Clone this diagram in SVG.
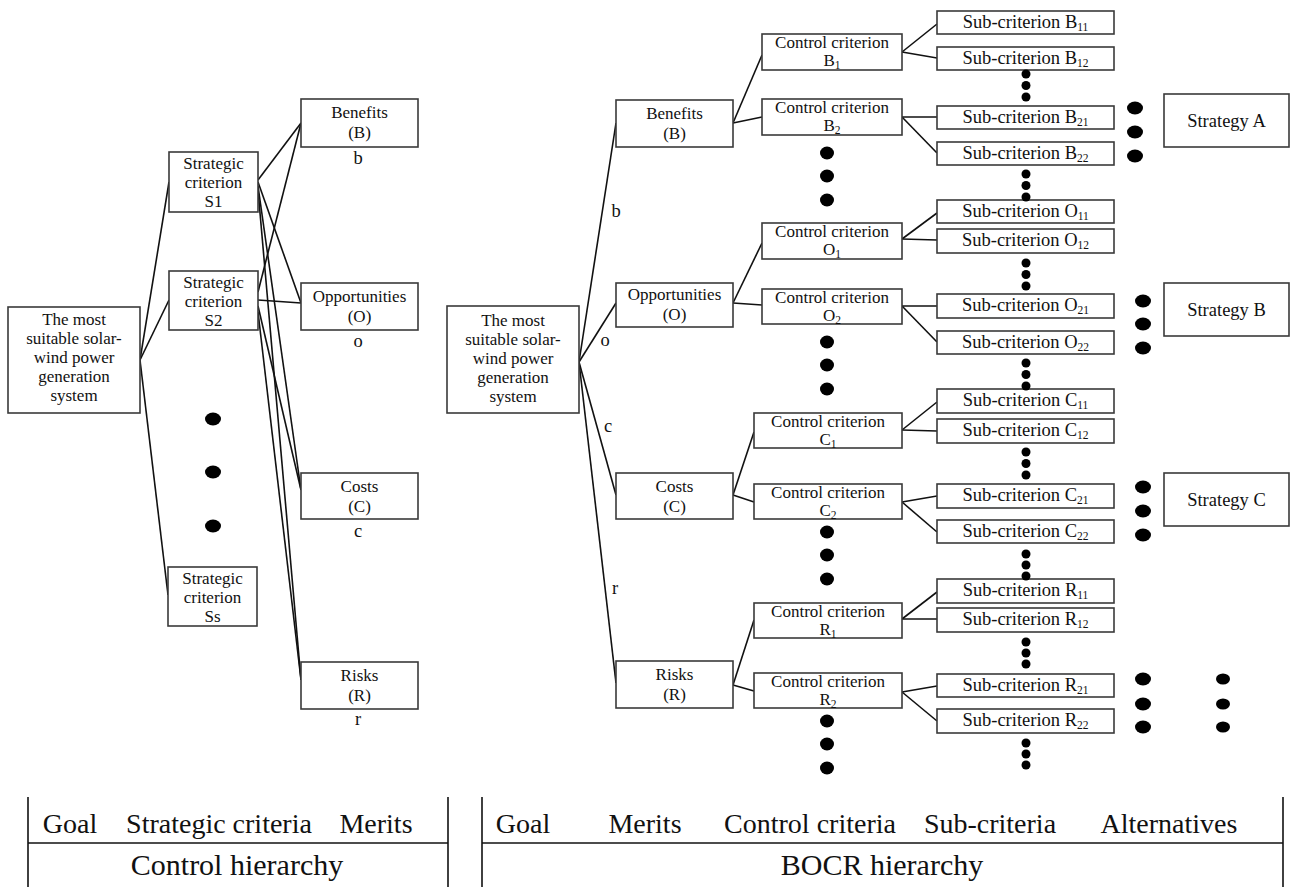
<svg xmlns="http://www.w3.org/2000/svg" width="1290" height="887" viewBox="0 0 1290 887">
<style>
.box{fill:#fff;stroke:#3a3a3a;stroke-width:1.6}
.t{font-family:"Liberation Serif","Times New Roman",serif;font-size:17px;fill:#111;text-anchor:middle}
.one{font-size:18.5px}
.s{font-size:11.5px}
.lb{font-family:"Liberation Serif","Times New Roman",serif;font-size:28px;fill:#111;text-anchor:middle}
.lh{font-size:30px}
.cn line{stroke:#111;stroke-width:1.6}
.tb line{stroke:#111;stroke-width:1.6}
.dot{fill:#000}
</style>
<rect width="1290" height="887" fill="#fff"/>

<g id="connectors" class="cn">
  <line x1="140" y1="360" x2="169" y2="182"/>
  <line x1="140" y1="360" x2="169" y2="300"/>
  <line x1="140" y1="360" x2="168" y2="595"/>
  <line x1="258" y1="180" x2="301" y2="123"/>
  <line x1="258" y1="182" x2="301" y2="303"/>
  <line x1="258" y1="186" x2="301" y2="490"/>
  <line x1="258" y1="190" x2="301" y2="680"/>
  <line x1="258" y1="292" x2="301" y2="123"/>
  <line x1="258" y1="300" x2="301" y2="303"/>
  <line x1="258" y1="306" x2="301" y2="490"/>
  <line x1="258" y1="312" x2="301" y2="680"/>
  <line x1="579" y1="362" x2="616" y2="123"/>
  <line x1="579" y1="362" x2="616" y2="303"/>
  <line x1="579" y1="362" x2="616" y2="495"/>
  <line x1="579" y1="362" x2="616" y2="683"/>
  <line x1="733" y1="123" x2="762" y2="55"/>
  <line x1="733" y1="123" x2="762" y2="117"/>
  <line x1="733" y1="303" x2="762" y2="243"/>
  <line x1="733" y1="303" x2="762" y2="305"/>
  <line x1="733" y1="495" x2="754" y2="432"/>
  <line x1="733" y1="495" x2="754" y2="502"/>
  <line x1="733" y1="685" x2="754" y2="620"/>
  <line x1="733" y1="685" x2="754" y2="691"/>
  <line x1="902" y1="52" x2="937" y2="24"/>
  <line x1="902" y1="52" x2="937" y2="58"/>
  <line x1="902" y1="117" x2="937" y2="117"/>
  <line x1="902" y1="117" x2="937" y2="153"/>
  <line x1="902" y1="239" x2="937" y2="213"/>
  <line x1="902" y1="239" x2="937" y2="240"/>
  <line x1="902" y1="306" x2="937" y2="306"/>
  <line x1="902" y1="306" x2="937" y2="342"/>
  <line x1="902" y1="430" x2="937" y2="402"/>
  <line x1="902" y1="430" x2="937" y2="431"/>
  <line x1="902" y1="502" x2="937" y2="496"/>
  <line x1="902" y1="502" x2="937" y2="532"/>
  <line x1="902" y1="619" x2="937" y2="592"/>
  <line x1="902" y1="619" x2="937" y2="619"/>
  <line x1="902" y1="692" x2="937" y2="686"/>
  <line x1="902" y1="692" x2="937" y2="721"/>
</g>

<!-- Left: control hierarchy -->
<g id="goalL"><rect class="box" x="8" y="307" width="132" height="106"/>
<text class="t" x="74" y="325">The most</text><text class="t" x="74" y="344">suitable solar-</text><text class="t" x="74" y="363">wind power</text><text class="t" x="74" y="382">generation</text><text class="t" x="74" y="401">system</text></g>
<g id="s1"><rect class="box" x="169" y="152" width="89" height="60"/>
<text class="t" x="213.5" y="169">Strategic</text><text class="t" x="213.5" y="188">criterion</text><text class="t" x="213.5" y="207">S1</text></g>
<g id="s2"><rect class="box" x="169" y="271" width="89" height="59"/>
<text class="t" x="213.5" y="288">Strategic</text><text class="t" x="213.5" y="307">criterion</text><text class="t" x="213.5" y="326">S2</text></g>
<g id="ss"><rect class="box" x="168" y="567" width="89" height="59"/>
<text class="t" x="212.5" y="584">Strategic</text><text class="t" x="212.5" y="603">criterion</text><text class="t" x="212.5" y="622">Ss</text></g>
<g id="dotsL"><ellipse class="dot" cx="213" cy="419" rx="8" ry="6.5"/><ellipse class="dot" cx="213" cy="472" rx="8" ry="6.5"/><ellipse class="dot" cx="213" cy="526" rx="8" ry="6.5"/></g>
<g id="benL"><rect class="box" x="301" y="99" width="117" height="48"/>
<text class="t" x="359.5" y="118">Benefits</text><text class="t" x="359.5" y="138">(B)</text><text class="t one" x="358" y="164">b</text></g>
<g id="oppL"><rect class="box" x="301" y="283" width="117" height="47"/>
<text class="t" x="359.5" y="302">Opportunities</text><text class="t" x="359.5" y="322">(O)</text><text class="t one" x="358" y="347">o</text></g>
<g id="costL"><rect class="box" x="301" y="473" width="117" height="46"/>
<text class="t" x="359.5" y="492">Costs</text><text class="t" x="359.5" y="512">(C)</text><text class="t one" x="358" y="537">c</text></g>
<g id="riskL"><rect class="box" x="301" y="662" width="117" height="47"/>
<text class="t" x="359.5" y="681">Risks</text><text class="t" x="359.5" y="701">(R)</text><text class="t one" x="358" y="725">r</text></g>

<!-- Right: BOCR hierarchy -->
<g id="goalR"><rect class="box" x="447" y="306" width="132" height="107"/>
<text class="t" x="513" y="326">The most</text><text class="t" x="513" y="345">suitable solar-</text><text class="t" x="513" y="364">wind power</text><text class="t" x="513" y="383">generation</text><text class="t" x="513" y="402">system</text></g>
<g id="labelsR"><text class="t one" x="616" y="217">b</text><text class="t one" x="605" y="346">o</text><text class="t one" x="608" y="432">c</text><text class="t one" x="615" y="594">r</text></g>
<g id="benR"><rect class="box" x="616" y="100" width="117" height="47"/>
<text class="t" x="674.5" y="119">Benefits</text><text class="t" x="674.5" y="139">(B)</text></g>
<g id="oppR"><rect class="box" x="616" y="283" width="117" height="44"/>
<text class="t" x="674.5" y="300">Opportunities</text><text class="t" x="674.5" y="320">(O)</text></g>
<g id="costR"><rect class="box" x="616" y="473" width="117" height="46"/>
<text class="t" x="674.5" y="492">Costs</text><text class="t" x="674.5" y="512">(C)</text></g>
<g id="riskR"><rect class="box" x="616" y="661" width="117" height="47"/>
<text class="t" x="674.5" y="680">Risks</text><text class="t" x="674.5" y="700">(R)</text></g>

<g id="cB1"><rect class="box" x="762" y="34" width="140" height="36"/><text class="t" x="832" y="48">Control criterion</text><text class="t" x="832" y="66">B<tspan class="s" dy="3">1</tspan></text></g>
<g id="cB2"><rect class="box" x="762" y="99" width="140" height="36"/><text class="t" x="832" y="113">Control criterion</text><text class="t" x="832" y="131">B<tspan class="s" dy="3">2</tspan></text></g>
<g id="cO1"><rect class="box" x="762" y="223" width="140" height="36"/><text class="t" x="832" y="237">Control criterion</text><text class="t" x="832" y="255">O<tspan class="s" dy="3">1</tspan></text></g>
<g id="cO2"><rect class="box" x="762" y="289" width="140" height="35"/><text class="t" x="832" y="303">Control criterion</text><text class="t" x="832" y="321">O<tspan class="s" dy="3">2</tspan></text></g>
<g id="cC1"><rect class="box" x="754" y="413" width="148" height="35"/><text class="t" x="828" y="427">Control criterion</text><text class="t" x="828" y="445">C<tspan class="s" dy="3">1</tspan></text></g>
<g id="cC2"><rect class="box" x="754" y="484" width="148" height="35"/><text class="t" x="828" y="498">Control criterion</text><text class="t" x="828" y="516">C<tspan class="s" dy="3">2</tspan></text></g>
<g id="cR1"><rect class="box" x="754" y="603" width="148" height="35"/><text class="t" x="828" y="617">Control criterion</text><text class="t" x="828" y="635">R<tspan class="s" dy="3">1</tspan></text></g>
<g id="cR2"><rect class="box" x="754" y="673" width="148" height="35"/><text class="t" x="828" y="687">Control criterion</text><text class="t" x="828" y="705">R<tspan class="s" dy="3">2</tspan></text></g>

<g id="dotsCtrl">
<ellipse class="dot" cx="827" cy="153" rx="7" ry="6.5"/><ellipse class="dot" cx="827" cy="176" rx="7" ry="6.5"/><ellipse class="dot" cx="827" cy="200" rx="7" ry="6.5"/>
<ellipse class="dot" cx="827" cy="342" rx="7" ry="6.5"/><ellipse class="dot" cx="827" cy="365" rx="7" ry="6.5"/><ellipse class="dot" cx="827" cy="389" rx="7" ry="6.5"/>
<ellipse class="dot" cx="827" cy="532" rx="7" ry="6.5"/><ellipse class="dot" cx="827" cy="555" rx="7" ry="6.5"/><ellipse class="dot" cx="827" cy="579" rx="7" ry="6.5"/>
<ellipse class="dot" cx="827" cy="721" rx="7" ry="6.5"/><ellipse class="dot" cx="827" cy="744" rx="7" ry="6.5"/><ellipse class="dot" cx="827" cy="768" rx="7" ry="6.5"/>
</g>

<g id="sB11"><rect class="box" x="937" y="11" width="177" height="23"/><text class="t one" x="1025.5" y="28">Sub-criterion B<tspan class="s" dy="3">11</tspan></text></g>
<g id="sB12"><rect class="box" x="937" y="47" width="177" height="23"/><text class="t one" x="1025.5" y="64">Sub-criterion B<tspan class="s" dy="3">12</tspan></text></g>
<g id="sB21"><rect class="box" x="937" y="106" width="177" height="23"/><text class="t one" x="1025.5" y="123">Sub-criterion B<tspan class="s" dy="3">21</tspan></text></g>
<g id="sB22"><rect class="box" x="937" y="142" width="177" height="23"/><text class="t one" x="1025.5" y="159">Sub-criterion B<tspan class="s" dy="3">22</tspan></text></g>
<g id="sO11"><rect class="box" x="937" y="200" width="177" height="23"/><text class="t one" x="1025.5" y="217">Sub-criterion O<tspan class="s" dy="3">11</tspan></text></g>
<g id="sO12"><rect class="box" x="937" y="229" width="177" height="24"/><text class="t one" x="1025.5" y="246">Sub-criterion O<tspan class="s" dy="3">12</tspan></text></g>
<g id="sO21"><rect class="box" x="937" y="294" width="177" height="24"/><text class="t one" x="1025.5" y="311">Sub-criterion O<tspan class="s" dy="3">21</tspan></text></g>
<g id="sO22"><rect class="box" x="937" y="331" width="177" height="23"/><text class="t one" x="1025.5" y="348">Sub-criterion O<tspan class="s" dy="3">22</tspan></text></g>
<g id="sC11"><rect class="box" x="937" y="389" width="177" height="24"/><text class="t one" x="1025.5" y="406">Sub-criterion C<tspan class="s" dy="3">11</tspan></text></g>
<g id="sC12"><rect class="box" x="937" y="419" width="177" height="24"/><text class="t one" x="1025.5" y="436">Sub-criterion C<tspan class="s" dy="3">12</tspan></text></g>
<g id="sC21"><rect class="box" x="937" y="484" width="177" height="24"/><text class="t one" x="1025.5" y="501">Sub-criterion C<tspan class="s" dy="3">21</tspan></text></g>
<g id="sC22"><rect class="box" x="937" y="520" width="177" height="23"/><text class="t one" x="1025.5" y="537">Sub-criterion C<tspan class="s" dy="3">22</tspan></text></g>
<g id="sR11"><rect class="box" x="937" y="579" width="177" height="24"/><text class="t one" x="1025.5" y="596">Sub-criterion R<tspan class="s" dy="3">11</tspan></text></g>
<g id="sR12"><rect class="box" x="937" y="608" width="177" height="24"/><text class="t one" x="1025.5" y="625">Sub-criterion R<tspan class="s" dy="3">12</tspan></text></g>
<g id="sR21"><rect class="box" x="937" y="674" width="177" height="23"/><text class="t one" x="1025.5" y="691">Sub-criterion R<tspan class="s" dy="3">21</tspan></text></g>
<g id="sR22"><rect class="box" x="937" y="709" width="177" height="24"/><text class="t one" x="1025.5" y="726">Sub-criterion R<tspan class="s" dy="3">22</tspan></text></g>

<g id="dotsSub">
<circle class="dot" cx="1026" cy="74" r="4.5"/><circle class="dot" cx="1026" cy="85.5" r="4.5"/><circle class="dot" cx="1026" cy="97" r="4.5"/>
<circle class="dot" cx="1026" cy="174" r="4.5"/><circle class="dot" cx="1026" cy="185.5" r="4.5"/><circle class="dot" cx="1026" cy="197" r="4.5"/>
<circle class="dot" cx="1026" cy="263" r="4.5"/><circle class="dot" cx="1026" cy="274.5" r="4.5"/><circle class="dot" cx="1026" cy="286" r="4.5"/>
<circle class="dot" cx="1026" cy="363" r="4.5"/><circle class="dot" cx="1026" cy="374.5" r="4.5"/><circle class="dot" cx="1026" cy="386" r="4.5"/>
<circle class="dot" cx="1026" cy="452" r="4.5"/><circle class="dot" cx="1026" cy="463.5" r="4.5"/><circle class="dot" cx="1026" cy="475" r="4.5"/>
<circle class="dot" cx="1026" cy="554" r="4.5"/><circle class="dot" cx="1026" cy="565" r="4.5"/><circle class="dot" cx="1026" cy="576" r="4.5"/>
<circle class="dot" cx="1026" cy="642" r="4.5"/><circle class="dot" cx="1026" cy="653" r="4.5"/><circle class="dot" cx="1026" cy="664" r="4.5"/>
<circle class="dot" cx="1026" cy="743" r="4.5"/><circle class="dot" cx="1026" cy="754" r="4.5"/><circle class="dot" cx="1026" cy="765" r="4.5"/>
</g>

<g id="dotsAlt">
<ellipse class="dot" cx="1135" cy="108" rx="8" ry="6.5"/><ellipse class="dot" cx="1135" cy="132" rx="8" ry="6.5"/><ellipse class="dot" cx="1135" cy="156" rx="8" ry="6.5"/>
<ellipse class="dot" cx="1143" cy="301" rx="8" ry="6.5"/><ellipse class="dot" cx="1143" cy="324" rx="8" ry="6.5"/><ellipse class="dot" cx="1143" cy="348" rx="8" ry="6.5"/>
<ellipse class="dot" cx="1143" cy="487" rx="8" ry="6.5"/><ellipse class="dot" cx="1143" cy="511" rx="8" ry="6.5"/><ellipse class="dot" cx="1143" cy="535" rx="8" ry="6.5"/>
<ellipse class="dot" cx="1143" cy="679" rx="8" ry="6.5"/><ellipse class="dot" cx="1143" cy="704" rx="8" ry="6.5"/><ellipse class="dot" cx="1143" cy="727" rx="8" ry="6.5"/>
<ellipse class="dot" cx="1223" cy="679" rx="7" ry="5.5"/><ellipse class="dot" cx="1223" cy="704" rx="7" ry="5.5"/><ellipse class="dot" cx="1223" cy="727" rx="7" ry="5.5"/>
</g>

<g id="stratA"><rect class="box" x="1164" y="94" width="125" height="53"/><text class="t one" x="1226.5" y="126.5">Strategy A</text></g>
<g id="stratB"><rect class="box" x="1164" y="283" width="125" height="53"/><text class="t one" x="1226.5" y="315.5">Strategy B</text></g>
<g id="stratC"><rect class="box" x="1164" y="473" width="125" height="53"/><text class="t one" x="1226.5" y="505.5">Strategy C</text></g>

<g id="legend" class="tb">
  <line x1="28" y1="797" x2="28" y2="887"/>
  <line x1="448" y1="797" x2="448" y2="887"/>
  <line x1="28" y1="843" x2="448" y2="843"/>
  <line x1="482" y1="797" x2="482" y2="887"/>
  <line x1="1283" y1="797" x2="1283" y2="887"/>
  <line x1="482" y1="843" x2="1283" y2="843"/>
  <text class="lb" x="70" y="833">Goal</text>
  <text class="lb" x="219" y="833">Strategic criteria</text>
  <text class="lb" x="376" y="833">Merits</text>
  <text class="lb lh" x="237" y="875">Control hierarchy</text>
  <text class="lb" x="523" y="833">Goal</text>
  <text class="lb" x="645" y="833">Merits</text>
  <text class="lb" x="810" y="833">Control criteria</text>
  <text class="lb" x="990" y="833">Sub-criteria</text>
  <text class="lb" x="1169" y="833">Alternatives</text>
  <text class="lb lh" x="882" y="875">BOCR hierarchy</text>
</g>
</svg>
